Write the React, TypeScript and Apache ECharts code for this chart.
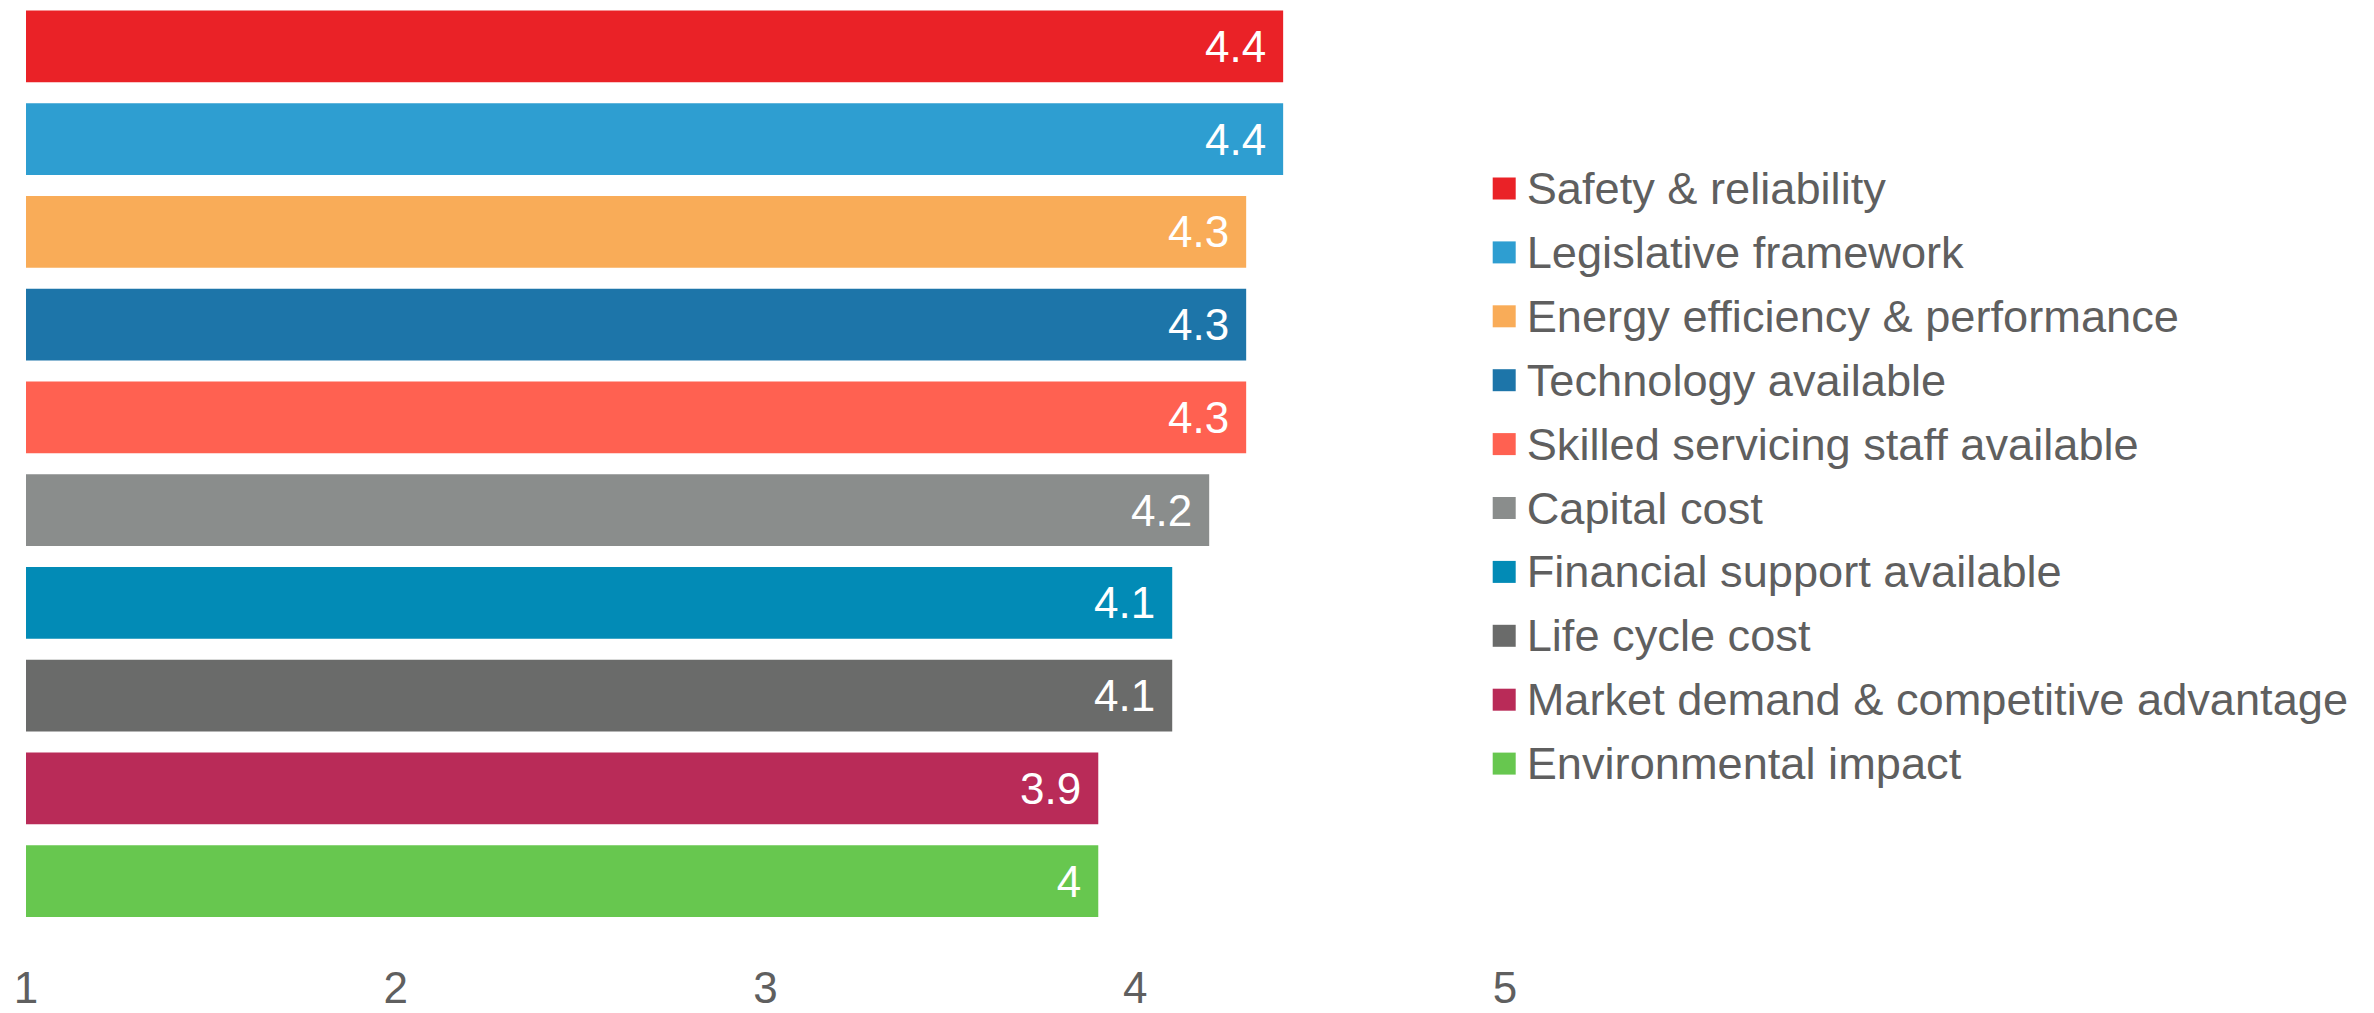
import React, { useEffect, useRef } from "react";
import * as echarts from "echarts";

const seriesNames = [
  "Safety & reliability",
  "Legislative framework",
  "Energy efficiency & performance",
  "Technology available",
  "Skilled servicing staff available",
  "Capital cost",
  "Financial support available",
  "Life cycle cost",
  "Market demand & competitive advantage",
  "Environmental impact",
];
const seriesValues = [4.4, 4.4, 4.3, 4.3, 4.3, 4.2, 4.1, 4.1, 3.9, 3.9];
const valueLabels = ["4.4", "4.4", "4.3", "4.3", "4.3", "4.2", "4.1", "4.1", "3.9", "4"];
const seriesColors = [
  "#EA2227",
  "#2E9ED1",
  "#F9AC58",
  "#1D75A9",
  "#FF6151",
  "#8A8D8C",
  "#028BB6",
  "#6A6B6A",
  "#B92B58",
  "#67C74F",
];
const xTicks = { min: 1, max: 5, interval: 1 };

export default function App() {
  const ref = useRef<HTMLDivElement>(null);
  useEffect(() => {
    document.body.style.margin = "0";
    const chart = echarts.init(ref.current!, null, { renderer: "svg" });
    const font = "'Liberation Sans', Arial, sans-serif";
    const series = seriesNames.map((name, i) => ({
      name,
      type: "bar",
      stack: "all",
      barCategoryGap: "22.8%",
      itemStyle: { color: seriesColors[i] },
      data: seriesValues.map((v, j) => (j === i ? v : "-")),
      label: {
        show: true,
        position: "insideRight",
        distance: 17,
        color: "#ffffff",
        fontSize: 44,
        fontFamily: font,
        formatter: () => valueLabels[i],
      },
    }));
    chart.setOption({
      animation: false,
      grid: { left: 26, right: 869, top: -1.5, bottom: 85.5 },
      xAxis: {
        type: "value",
        min: xTicks.min,
        max: xTicks.max,
        interval: xTicks.interval,
        splitLine: { show: false },
        axisLine: { show: false },
        axisTick: { show: false },
        axisLabel: {
          margin: 38,
          fontSize: 44,
          color: "#5F5F5F",
          fontFamily: font,
        },
      },
      yAxis: {
        type: "category",
        inverse: true,
        data: seriesNames,
        show: false,
      },
      legend: {
        orient: "vertical",
        left: 1492.7,
        top: 166,
        padding: 0,
        itemWidth: 23,
        itemHeight: 22,
        itemGap: 18.9,
        icon: "rect",
        data: seriesNames,
        textStyle: {
          fontSize: 45.2,
          lineHeight: 44.5,
          color: "#5F5F5F",
          fontFamily: font,
          padding: [0, 0, 0, 6],
        },
      },
      series,
    });
    return () => chart.dispose();
  }, []);
  return <div ref={ref} style={{ width: 2374, height: 1013 }} />;
}
